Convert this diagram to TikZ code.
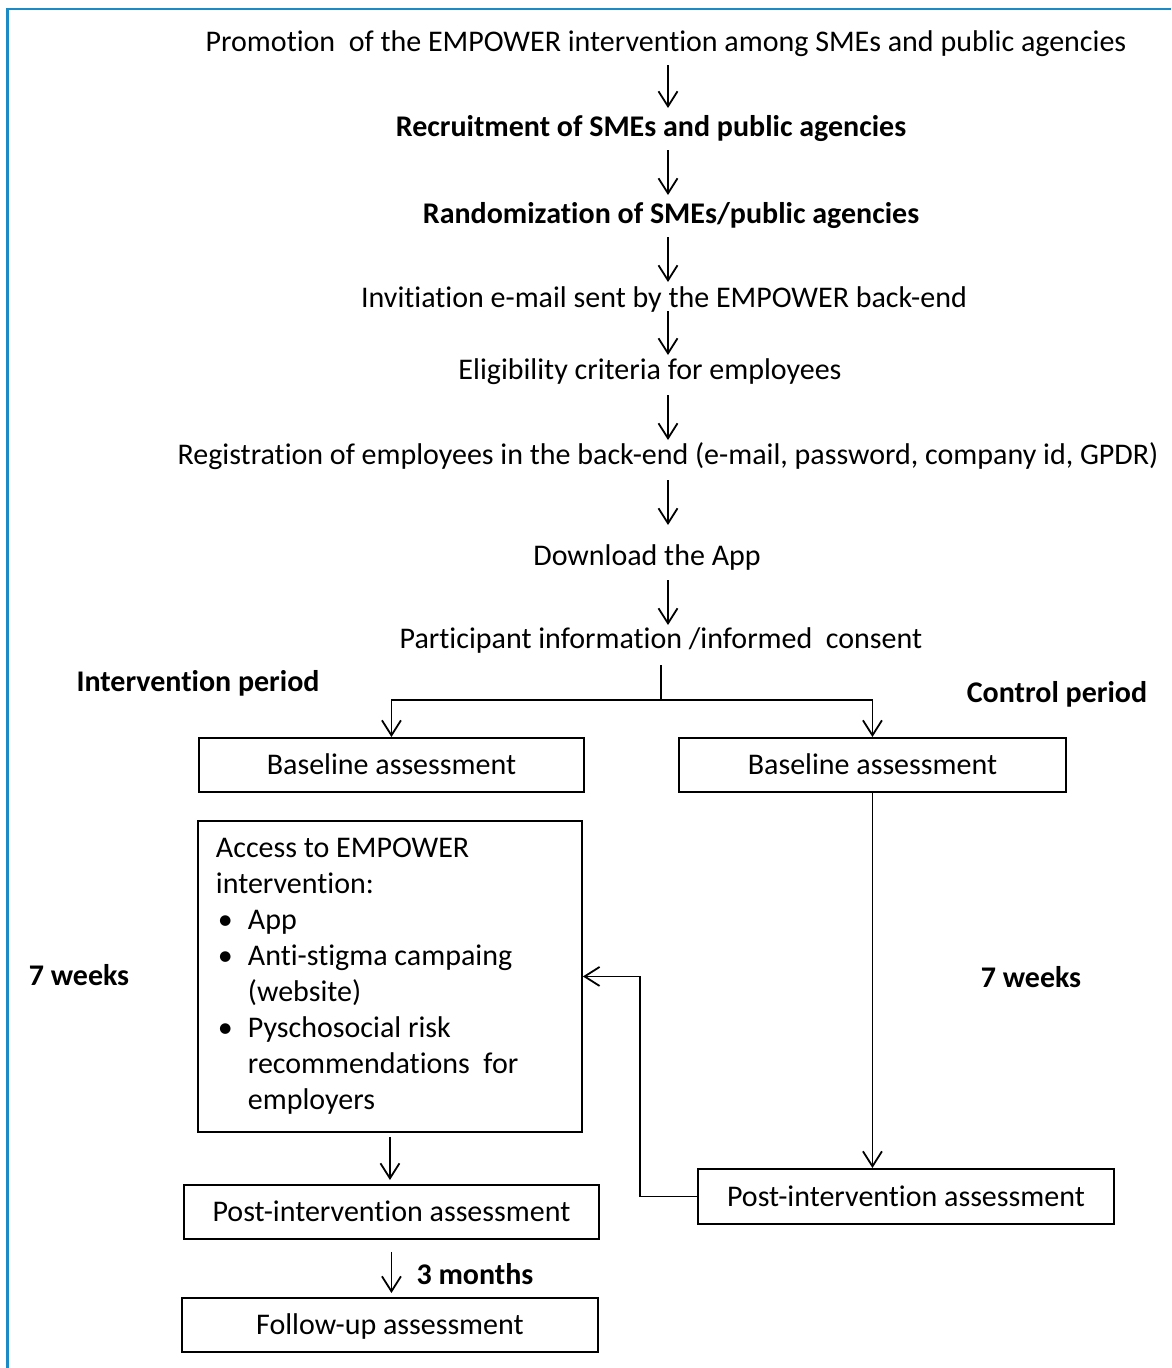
\documentclass[tikz,border=0pt]{standalone}
\usepackage{fontspec}
\setmainfont{Carlito}[Ligatures=NoCommon]
\usetikzlibrary{arrows.meta,calc}
\definecolor{framecol}{RGB}{28,138,196}
\begin{document}
\begin{tikzpicture}[x=1pt,y=-1pt,
  txt/.style={inner sep=0pt, text height=20pt, text depth=0pt, font=\fontsize{30}{36}\selectfont},
  btxt/.style={txt, font=\fontsize{30}{36}\selectfont\bfseries},
  box/.style={draw, line width=1.9pt, inner sep=0pt, anchor=north west, text height=20pt, text depth=0pt, font=\fontsize{30}{36}\selectfont},
  accbox/.style={draw, line width=1.9pt, anchor=north west, inner xsep=18pt, inner ysep=0pt, align=flush left, font=\fontsize{30}{36}\selectfont},
  arr/.style={line width=1.8pt, -{Straight Barb[length=15pt,width=19pt,line width=1.8pt]}},
  plain/.style={line width=1.8pt}]
\useasboundingbox (0,0) rectangle (1171,1368);
\fill[white] (0,0) rectangle (1171,1368);
\draw[line width=2.4pt, framecol] (7.5,1368) -- (7.5,9) -- (1171,9);

% top chain
\node[txt]  (t1) at (666,41)  {Promotion\ \ of the EMPOWER intervention among SMEs and public agencies};
\node[btxt] (t2) at (651,126) {Recruitment of SMEs and public agencies};
\node[btxt] (t3) at (671,213) {Randomization of SMEs/public agencies};
\node[txt]  (t4) at (664,297) {Invitiation e-mail sent by the EMPOWER back-end};
\node[txt]  (t5) at (650,369) {Eligibility criteria for employees};
\node[txt]  (t6) at (668,454) {Registration of employees in the back-end (e-mail, password, company id, GPDR)};
\node[txt]  (t7) at (647,555) {Download the App};
\node[txt]  (t8) at (661,638) {Participant information /informed\ \ consent};

\coordinate (ax) at (668,0);
\draw[arr] ($(t1.center -| ax)+(0,24)$) -- ($(t2.center -| ax)+(0,-18)$);
\draw[arr] ($(t2.center -| ax)+(0,24)$) -- ($(t3.center -| ax)+(0,-18)$);
\draw[arr] ($(t3.center -| ax)+(0,24)$) -- ($(t4.center -| ax)+(0,-15)$);
\draw[arr] ($(t4.center -| ax)+(0,14)$) -- ($(t5.center -| ax)+(0,-14)$);
\draw[arr] ($(t5.center -| ax)+(0,26)$) -- ($(t6.center -| ax)+(0,-14)$);
\draw[arr] ($(t6.center -| ax)+(0,26)$) -- ($(t7.center -| ax)+(0,-30)$);
\draw[arr] ($(t7.center -| ax)+(0,25)$) -- ($(t8.center -| ax)+(0,-13)$);

% period labels
\node[btxt] (ip) at (198,681) {Intervention period};
\node[btxt] (cp) at (1057,692) {Control period};

% boxes
\node[box, minimum width=385pt, minimum height=54pt] (bl) at (198,737) {Baseline assessment};
\node[box, minimum width=387pt, minimum height=54pt] (br) at (678,737) {Baseline assessment};
\node[accbox, text width=348pt, minimum height=311pt] (acc) at (197,820)
  {Access to EMPOWER\\
   intervention:\\
   \makebox[32pt][l]{\hspace*{2pt}\textbullet}App\\
   \makebox[32pt][l]{\hspace*{2pt}\textbullet}Anti-stigma campaing\\
   \hspace*{32pt}(website)\\
   \makebox[32pt][l]{\hspace*{2pt}\textbullet}Pyschosocial risk\\
   \hspace*{32pt}recommendations\ \ for\\
   \hspace*{32pt}employers};
\node[box, minimum width=415pt, minimum height=54pt] (postl) at (183,1184) {Post-intervention assessment};
\node[box, minimum width=416pt, minimum height=54pt] (fu) at (181,1297) {Follow-up assessment};
\node[box, minimum width=416pt, minimum height=55pt] (postr) at (697,1168) {Post-intervention assessment};

% split
\coordinate (stop) at (661,665);
\coordinate (split) at (661,700);
\draw[plain] (stop) -- (split);
\draw[arr] (split) -| (bl.north);
\draw[arr] (split) -| (br.north);

% connectors
\draw[arr] (br.south) -- (br.south |- postr.north);
\draw[arr] (postr.west) -- ++(-57,0) |- (acc.east);
\draw[arr, shorten <=4pt, shorten >=4pt] (acc.south) -- (acc.south |- postl.north);
\draw[arr, shorten <=12pt, shorten >=4pt] (postl.south) -- (postl.south |- fu.north);

% labels
\node[btxt] (w1) at (79,975) {7 weeks};
\node[btxt] (w2) at (1031,977) {7 weeks};
\node[btxt] (m3) at (475,1274) {3 months};
\end{tikzpicture}
\end{document}
